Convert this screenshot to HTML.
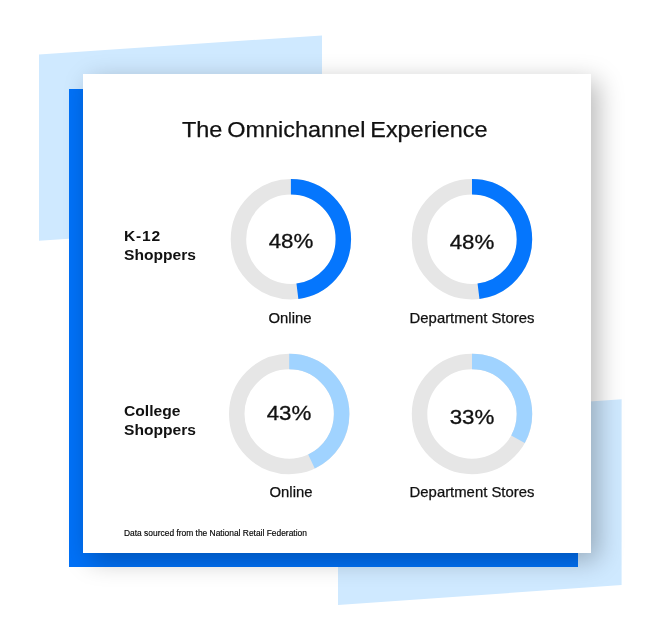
<!DOCTYPE html>
<html>
<head>
<meta charset="utf-8">
<title>The Omnichannel Experience</title>
<style>
html,body{margin:0;padding:0;background:#fff;}
body{width:648px;height:625px;position:relative;overflow:hidden;font-family:"Liberation Sans",sans-serif;color:#111;}
.abs{position:absolute;}
#bg{left:0;top:0;width:648px;height:625px;}
#blue{left:68.8px;top:88.8px;width:508.8px;height:477.8px;background:#0171f7;}
#card{left:82.9px;top:74px;width:508.6px;height:479.1px;background:#fff;box-shadow:7px 7px 24px rgba(0,0,0,.28);}
.t{position:absolute;white-space:nowrap;line-height:1;}
#title{font-size:22px;left:181.6px;top:119.2px;word-spacing:-1.5px;-webkit-text-stroke:.25px #111;transform:scaleX(1.065);transform-origin:0 50%;}
.lab{font-weight:bold;font-size:15.3px;left:123.7px;transform:scaleX(1.02);transform-origin:0 50%;}
.sub{font-size:14.3px;-webkit-text-stroke:.25px #111;transform:translateX(-50%) scaleX(1.04);}
.pct{font-size:20px;-webkit-text-stroke:.3px #111;transform:translateX(-50%) scaleX(1.115);}
#foot{font-size:8.4px;left:123.5px;top:528.8px;color:#000;-webkit-text-stroke:.15px #000;transform:scaleX(1.005);transform-origin:0 50%;}
</style>
</head>
<body>
<svg id="bg" class="abs" width="648" height="625" viewBox="0 0 648 625">
  <polygon points="39,54.4 322,35.4 322,221.8 39,240.8" fill="#cfe9ff"/>
  <polygon points="338,419 621.6,399.3 621.6,585.1 338,605" fill="#cfe9ff"/>
</svg>
<div id="blue" class="abs"></div>
<div id="card" class="abs"></div>
<svg class="abs" style="left:0;top:0" width="648" height="625" viewBox="0 0 648 625">
  <g fill="none" stroke-width="15.5">
    <circle cx="290.9" cy="239.2" r="52.45" stroke="#e6e6e6"/>
    <circle cx="472" cy="239.2" r="52.45" stroke="#e6e6e6"/>
    <circle cx="289.2" cy="414" r="52.45" stroke="#e6e6e6"/>
    <circle cx="472" cy="414" r="52.45" stroke="#e6e6e6"/>
    <circle cx="290.9" cy="239.2" r="52.45" stroke="#0576fd" pathLength="100" stroke-dasharray="48 100" transform="rotate(-90 290.9 239.2)"/>
    <circle cx="472" cy="239.2" r="52.45" stroke="#0576fd" pathLength="100" stroke-dasharray="48 100" transform="rotate(-90 472 239.2)"/>
    <circle cx="289.2" cy="414" r="52.45" stroke="#a0d3ff" pathLength="100" stroke-dasharray="43 100" transform="rotate(-90 289.2 414)"/>
    <circle cx="472" cy="414" r="52.45" stroke="#a0d3ff" pathLength="100" stroke-dasharray="33 100" transform="rotate(-90 472 414)"/>
  </g>
</svg>
<div id="title" class="t">The Omnichannel Experience</div>
<div id="l1a" class="t lab" style="top:228.2px;letter-spacing:.8px">K-12</div>
<div id="l1b" class="t lab" style="top:247.4px">Shoppers</div>
<div id="l2a" class="t lab" style="top:403.2px">College</div>
<div id="l2b" class="t lab" style="top:422.4px">Shoppers</div>
<div id="p1" class="t pct" style="left:290.6px;top:230.6px">48%</div>
<div id="p2" class="t pct" style="left:471.9px;top:231.7px">48%</div>
<div id="p3" class="t pct" style="left:289.4px;top:402.8px">43%</div>
<div id="p4" class="t pct" style="left:471.9px;top:406.6px">33%</div>
<div id="s1" class="t sub" style="left:290px;top:311.2px">Online</div>
<div id="s2" class="t sub" style="left:472.1px;top:311.3px">Department Stores</div>
<div id="s3" class="t sub" style="left:290.6px;top:485px">Online</div>
<div id="s4" class="t sub" style="left:472.4px;top:485px">Department Stores</div>
<div id="foot" class="t">Data sourced from the National Retail Federation</div>
</body>
</html>
